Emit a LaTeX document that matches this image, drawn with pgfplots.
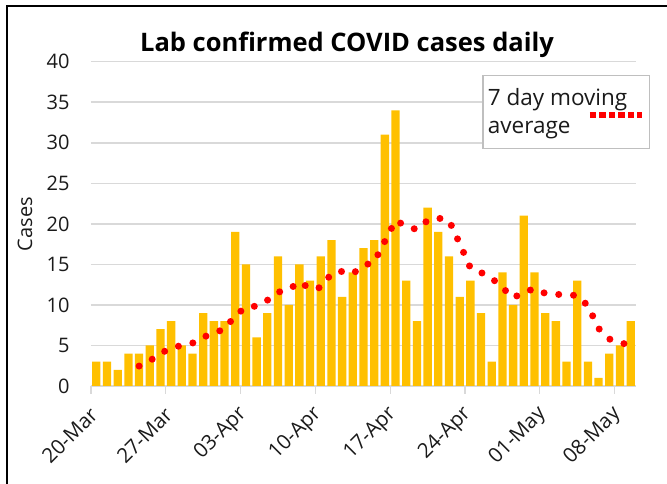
\documentclass[border=0pt]{standalone}
\usepackage{pgfplots}
\pgfplotsset{compat=1.18}
\usepackage{fontspec}
\setmainfont{Open Sans}
\definecolor{bargold}{HTML}{FFC000}
\definecolor{gridgray}{HTML}{D9D9D9}
\definecolor{legbord}{HTML}{BFBFBF}
\definecolor{txt}{HTML}{1A1A1A}
\tikzset{xlab/.style={rotate=45, anchor=east, inner sep=0pt, font=\fontsize{20.5}{24}\selectfont, text=txt}}
\begin{document}
\begin{tikzpicture}[x=1pt,y=1pt]
\begin{axis}[
  width=545pt, height=324.3pt, scale only axis,
  xmin=-0.5, xmax=50.5, ymin=0, ymax=40,
  separate axis lines,
  axis x line*=bottom, axis y line*=left,
  y axis line style={draw=none},
  x axis line style={gridgray, line width=1.5pt, -},
  ytick={0,5,...,40},
  ymajorgrids, grid style={gridgray, line width=1.5pt},
  ytick style={draw=none},
  xtick={-0.5,6.5,13.5,20.5,27.5,34.5,41.5,48.5},
  xticklabels={},
  xtick style={gridgray, line width=1.2pt},
  tick align=outside, major tick length=8pt,
  /pgf/number format/assume math mode=true,
  tick label style={font=\fontsize{20}{24}\selectfont, text=txt},
  yticklabel style={xshift=-10pt},
  legend style={at={(1.0257,0.959)}, anchor=north east, draw=legbord, line width=1.5pt,
    font=\fontsize{22.5}{28}\selectfont, text=txt, inner xsep=3pt, inner ysep=11pt,
    cells={align=left}, column sep=0pt},
  legend plot pos=right,
  clip=false,
]
\addplot[ybar, bar width=8.3pt, bar shift=0pt, fill=bargold, draw=none, forget plot] coordinates {
(0,3) (1,3) (2,2) (3,4) (4,4) (5,5) (6,7) (7,8) (8,5) (9,4)
(10,9) (11,8) (12,8) (13,19) (14,15) (15,6) (16,9) (17,16) (18,10) (19,15)
(20,13) (21,16) (22,18) (23,11) (24,14) (25,17) (26,18) (27,31) (28,34) (29,13)
(30,8) (31,22) (32,19) (33,16) (34,11) (35,13) (36,9) (37,3) (38,14) (39,10)
(40,21) (41,14) (42,9) (43,8) (44,3) (45,13) (46,3) (47,1) (48,4) (49,5)
(50,8)
};
\addplot[red, line width=7pt, line cap=round, dash pattern=on 0pt off 14.8pt,
  legend image code/.code={\path (0pt,0pt) (10pt,0pt);
    \draw[overlay, red, line width=6.5pt, line cap=butt, dash pattern=on 6.5pt off 3pt] (-43pt,-3pt) -- (9pt,-3pt);}]
 coordinates {
(4,2.46) (5,3.1) (6,4.00) (7,4.71) (8,5.00) (9,5.29)
(10,6.00) (11,6.57) (12,7.00) (13,8.71) (14,9.71) (15,9.86) (16,10.57) (17,11.57) (18,11.86) (19,12.86)
(20,12.00) (21,12.14) (22,13.86) (23,14.14) (24,13.86) (25,14.86) (26,15.29) (27,17.86) (28,20.43) (29,19.71)
(30,19.29) (31,20.43) (32,20.71) (33,20.43) (34,17.57) (35,14.57) (36,14.00) (37,13.29) (38,12.14) (39,10.86)
(40,11.57) (41,12.00) (42,11.43) (43,11.29) (44,11.29) (45,11.14) (46,9.9) (47,7.1) (48,5.8) (49,5.3)
(50,5.1)
};
\addlegendentry{7 day moving\\average}
\node[xlab] at ([xshift=3pt,yshift=-25pt]axis cs:-0.5,0) {20-Mar};
\node[xlab] at ([xshift=3pt,yshift=-25pt]axis cs:6.5,0) {27-Mar};
\node[xlab] at ([xshift=3pt,yshift=-25pt]axis cs:13.5,0) {03-Apr};
\node[xlab] at ([xshift=3pt,yshift=-25pt]axis cs:20.5,0) {10-Apr};
\node[xlab] at ([xshift=3pt,yshift=-25pt]axis cs:27.5,0) {17-Apr};
\node[xlab] at ([xshift=3pt,yshift=-25pt]axis cs:34.5,0) {24-Apr};
\node[xlab] at ([xshift=3pt,yshift=-25pt]axis cs:41.5,0) {01-May};
\node[xlab] at ([xshift=3pt,yshift=-25pt]axis cs:48.5,0) {08-May};
\end{axis}
% plot origin (south west of the axis box) is at image pixel (91,386)
\draw[black, line width=2pt] (-84,-98) -- (-84,379.5) -- (577,379.5);
\node[font=\fontsize{25.5}{30}\selectfont\bfseries, text=black] at (256,341) {Lab confirmed COVID cases daily};
\node[rotate=90, font=\fontsize{20}{24}\selectfont, text=txt] at (-66,162) {Cases};
\pgfresetboundingbox
\useasboundingbox (-91,-98) rectangle (576,386);
\end{tikzpicture}
\end{document}
